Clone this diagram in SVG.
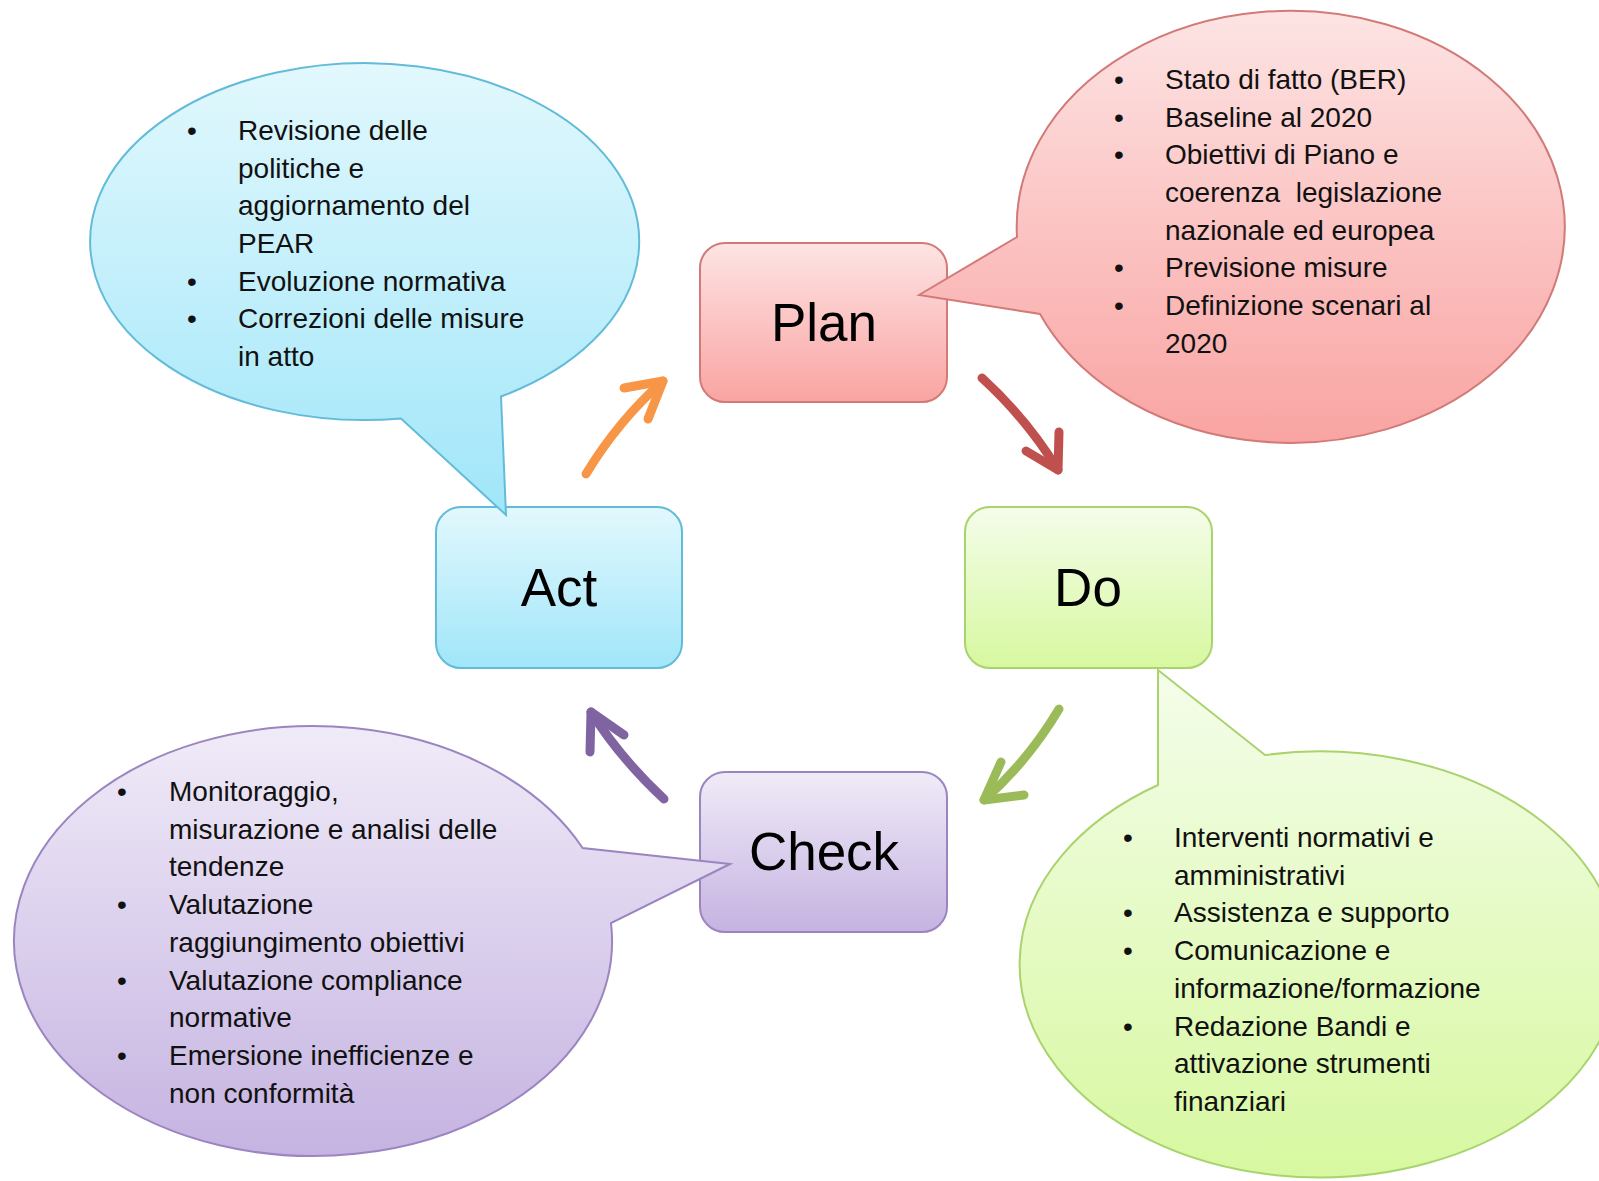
<svg xmlns="http://www.w3.org/2000/svg" width="1599" height="1181" viewBox="0 0 1599 1181">
<style>
.lbl{font-family:"Liberation Sans",Arial,sans-serif;font-size:53px;fill:#000;text-anchor:middle}
.t{font-family:"Liberation Sans",Arial,sans-serif;font-size:28px;fill:#111}
.b{font-family:"Liberation Sans",Arial,sans-serif;font-size:28px;fill:#111;text-anchor:middle}
.arr{fill:none;stroke-width:9;stroke-linecap:round;stroke-linejoin:round}
</style>
<defs>
<linearGradient id="gRed" x1="0" y1="0" x2="0" y2="1"><stop offset="0" stop-color="#fde4e4"/><stop offset="1" stop-color="#f9a4a2"/></linearGradient>
<linearGradient id="gBlue" x1="0" y1="0" x2="0" y2="1"><stop offset="0" stop-color="#e2f8fd"/><stop offset="1" stop-color="#a0e6f9"/></linearGradient>
<linearGradient id="gPur" x1="0" y1="0" x2="0" y2="1"><stop offset="0" stop-color="#f0ebf8"/><stop offset="1" stop-color="#c5b3e1"/></linearGradient>
<linearGradient id="gGrn" x1="0" y1="0" x2="0" y2="1"><stop offset="0" stop-color="#f4fdea"/><stop offset="1" stop-color="#d7f8a0"/></linearGradient>
</defs>
<rect width="1599" height="1181" fill="#fff"/>

<g id="node-plan">
<rect x="700" y="243" width="247" height="159" rx="25" fill="url(#gRed)" stroke="#d27a78" stroke-width="2"/>
<text class="lbl" x="824" y="341">Plan</text>
</g>
<g id="node-do">
<rect x="965" y="507" width="247" height="161" rx="25" fill="url(#gGrn)" stroke="#a9d36c" stroke-width="2"/>
<text class="lbl" x="1088" y="606">Do</text>
</g>
<g id="node-act">
<rect x="436" y="507" width="246" height="161" rx="25" fill="url(#gBlue)" stroke="#62bcd9" stroke-width="2"/>
<text class="lbl" x="559" y="606">Act</text>
</g>
<g id="node-check">
<rect x="700" y="772" width="247" height="160" rx="25" fill="url(#gPur)" stroke="#9b85c1" stroke-width="2"/>
<text class="lbl" x="824" y="870">Check</text>
</g>

<g id="callout-plan">
<path d="M919,295 L1017,237 A274,216 0 1 1 1040,314 Z" fill="url(#gRed)" stroke="#d27a78" stroke-width="2"/>
<text class="b" x="1119" y="89">•</text><text class="t" x="1165" y="89">Stato di fatto (BER)</text>
<text class="b" x="1119" y="127">•</text><text class="t" x="1165" y="127">Baseline al 2020</text>
<text class="b" x="1119" y="164">•</text><text class="t" x="1165" y="164">Obiettivi di Piano e</text>
<text class="t" x="1165" y="202" xml:space="preserve">coerenza  legislazione</text>
<text class="t" x="1165" y="240">nazionale ed europea</text>
<text class="b" x="1119" y="277">•</text><text class="t" x="1165" y="277">Previsione misure</text>
<text class="b" x="1119" y="315">•</text><text class="t" x="1165" y="315">Definizione scenari al</text>
<text class="t" x="1165" y="353">2020</text>
</g>

<g id="callout-act">
<path d="M506,515 L501,396.5 A274.5,178.5 0 1 0 401,418.5 Z" fill="url(#gBlue)" stroke="#62bcd9" stroke-width="2"/>
<text class="b" x="192" y="140">•</text><text class="t" x="238" y="140">Revisione delle</text>
<text class="t" x="238" y="178">politiche e</text>
<text class="t" x="238" y="215">aggiornamento del</text>
<text class="t" x="238" y="253">PEAR</text>
<text class="b" x="192" y="291">•</text><text class="t" x="238" y="291">Evoluzione normativa</text>
<text class="b" x="192" y="328">•</text><text class="t" x="238" y="328">Correzioni delle misure</text>
<text class="t" x="238" y="366">in atto</text>
</g>

<g id="callout-check">
<path d="M730,864 L582.6,848 A299,215 0 1 0 611,923 Z" fill="url(#gPur)" stroke="#9b85c1" stroke-width="2"/>
<text class="b" x="122" y="801">•</text><text class="t" x="169" y="801">Monitoraggio,</text>
<text class="t" x="169" y="839">misurazione e analisi delle</text>
<text class="t" x="169" y="876">tendenze</text>
<text class="b" x="122" y="914">•</text><text class="t" x="169" y="914">Valutazione</text>
<text class="t" x="169" y="952">raggiungimento obiettivi</text>
<text class="b" x="122" y="990">•</text><text class="t" x="169" y="990">Valutazione compliance</text>
<text class="t" x="169" y="1027">normative</text>
<text class="b" x="122" y="1065">•</text><text class="t" x="169" y="1065">Emersione inefficienze e</text>
<text class="t" x="169" y="1103">non conformità</text>
</g>

<g id="callout-do">
<path d="M1158,670 L1158,785 A300,213 0 1 0 1265,755 Z" fill="url(#gGrn)" stroke="#a9d36c" stroke-width="2"/>
<text class="b" x="1128" y="847">•</text><text class="t" x="1174" y="847">Interventi normativi e</text>
<text class="t" x="1174" y="885">amministrativi</text>
<text class="b" x="1128" y="922">•</text><text class="t" x="1174" y="922">Assistenza e supporto</text>
<text class="b" x="1128" y="960">•</text><text class="t" x="1174" y="960">Comunicazione e</text>
<text class="t" x="1174" y="998">informazione/formazione</text>
<text class="b" x="1128" y="1036">•</text><text class="t" x="1174" y="1036">Redazione Bandi e</text>
<text class="t" x="1174" y="1073">attivazione strumenti</text>
<text class="t" x="1174" y="1111">finanziari</text>
</g>

<g id="connectors">
<g stroke="#f79646" class="arr">
<path d="M586,474 Q618,421 663,381"/>
<path d="M624,388 L663,381 L648,419"/>
</g>
<g stroke="#c0504d" class="arr">
<path d="M982,378 Q1027,419 1058,470"/>
<path d="M1059,432 L1058,470 L1026,451"/>
</g>
<g stroke="#9bbb59" class="arr">
<path d="M1059,709 Q1028,761 984,800"/>
<path d="M1001,762 L984,800 L1024,795"/>
</g>
<g stroke="#8064a2" class="arr">
<path d="M664,799 Q621,759 591,712"/>
<path d="M590,752 L591,712 L624,735"/>
</g>
</g>
</svg>
